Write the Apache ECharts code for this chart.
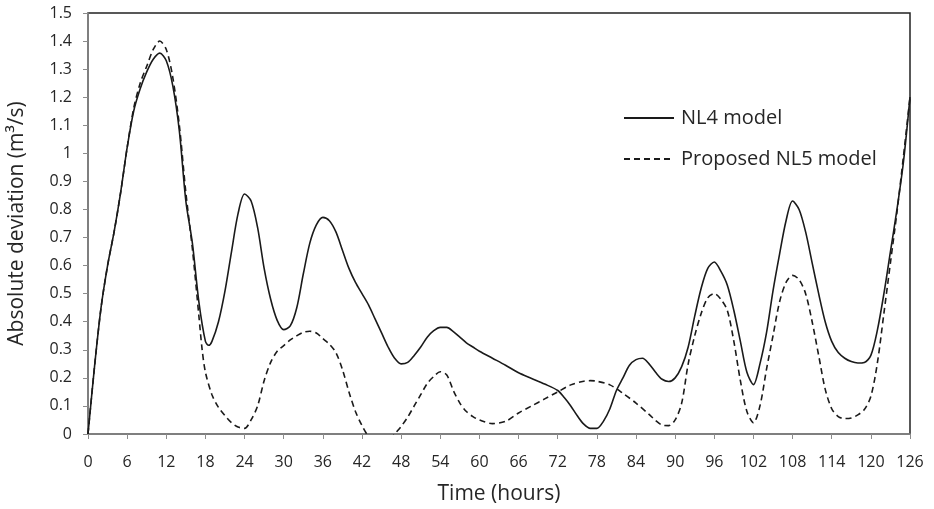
<!DOCTYPE html>
<html>
<head>
<meta charset="utf-8">
<script src="https://cdn.jsdelivr.net/npm/echarts@6/dist/echarts.min.js"></script>
<style>
  html, body { margin: 0; padding: 0; background: #fff; }
  #chart { width: 934px; height: 509px; }
</style>
</head>
<body>
<div id="chart"></div>
<script>
// hours, values
const nl4Points = [
  [0, 0], [1, 0.24], [2, 0.45], [3, 0.6], [4, 0.72], [5, 0.86], [6, 1.02], [7, 1.15],
  [8, 1.23], [9, 1.29], [10, 1.335], [11, 1.357], [12, 1.33], [13, 1.24], [14, 1.08],
  [15, 0.83], [16, 0.68], [17, 0.47], [18, 0.33], [18.5, 0.316], [19, 0.33], [20, 0.4],
  [21, 0.51], [22, 0.65], [23, 0.785], [24, 0.855], [25, 0.83], [26, 0.735], [27, 0.59],
  [28, 0.48], [29, 0.405], [30, 0.372], [31, 0.385], [32, 0.45], [33, 0.57], [34, 0.68],
  [35, 0.745], [36, 0.772], [37, 0.76], [38, 0.72], [39, 0.655], [40, 0.59], [41, 0.54],
  [42, 0.5], [43, 0.46], [44, 0.41], [45, 0.36], [46, 0.31], [47, 0.27], [48, 0.25],
  [49, 0.255], [50, 0.28], [51, 0.31], [52, 0.345], [53, 0.368], [54, 0.38], [55, 0.38],
  [56, 0.365], [57, 0.345], [58, 0.325], [59, 0.31], [60, 0.295], [62, 0.27], [64, 0.245],
  [66, 0.218], [68, 0.198], [70, 0.178], [72, 0.155], [73, 0.13], [74, 0.1], [75, 0.065],
  [76, 0.035], [77, 0.02], [78, 0.02], [79, 0.045], [80, 0.09], [81, 0.155], [82, 0.2],
  [83, 0.245], [84, 0.265], [85, 0.27], [86, 0.25], [87, 0.22], [88, 0.195], [89, 0.187],
  [90, 0.2], [91, 0.24], [92, 0.31], [93, 0.42], [94, 0.52], [95, 0.59], [96, 0.613],
  [97, 0.58], [98, 0.53], [99, 0.44], [100, 0.33], [101, 0.22], [102, 0.176], [103, 0.25],
  [104, 0.36], [105, 0.51], [106, 0.64], [107, 0.76], [108, 0.83], [109, 0.8], [110, 0.72],
  [111, 0.61], [112, 0.5], [113, 0.4], [114, 0.33], [115, 0.29], [116, 0.27],
  [117, 0.258], [118, 0.253], [119, 0.255], [120, 0.28], [121, 0.37], [122, 0.5],
  [123, 0.65], [124, 0.8], [125, 0.97], [126, 1.2]
];

const nl5Points = [
  [0, 0], [1, 0.24], [2, 0.45], [3, 0.6], [4, 0.72], [5, 0.86], [6, 1.02], [7, 1.16],
  [8, 1.25], [9, 1.31], [10, 1.37], [11, 1.4], [12, 1.37], [13, 1.27], [14, 1.1],
  [15, 0.86], [16, 0.66], [17, 0.42], [17.5, 0.3], [18, 0.22], [19, 0.14], [20, 0.095],
  [21, 0.065], [22, 0.04], [23, 0.025], [24, 0.02], [25, 0.05], [26, 0.1], [27, 0.19],
  [28, 0.255], [29, 0.295], [30, 0.315], [31, 0.335], [32, 0.35], [33, 0.362], [34, 0.366],
  [35, 0.36], [36, 0.34], [37, 0.32], [38, 0.29], [39, 0.23], [40, 0.15], [41, 0.08],
  [42, 0.03], [43, -0.01], [44, -0.04], [45, -0.05], [46, -0.03], [47, 0.0], [48, 0.027],
  [49, 0.06], [50, 0.1], [51, 0.14], [52, 0.18], [53, 0.205], [54, 0.222], [55, 0.21],
  [56, 0.155], [57, 0.11], [58, 0.08], [59, 0.062], [60, 0.05], [62, 0.037], [64, 0.045],
  [66, 0.075], [68, 0.1], [70, 0.125], [72, 0.15], [74, 0.175], [76, 0.188], [77, 0.19],
  [78, 0.188], [80, 0.175], [82, 0.145], [84, 0.11], [86, 0.07], [87, 0.048], [88, 0.032],
  [89, 0.03], [90, 0.05], [91, 0.11], [92, 0.25], [93, 0.35], [94, 0.43], [95, 0.485],
  [96, 0.5], [97, 0.48], [98, 0.44], [99, 0.33], [100, 0.19], [101, 0.08], [102, 0.04],
  [103, 0.1], [104, 0.23], [105, 0.35], [106, 0.47], [107, 0.54], [108, 0.565], [109, 0.55],
  [110, 0.5], [111, 0.4], [112, 0.28], [113, 0.16], [114, 0.09], [115, 0.062],
  [116, 0.055], [117, 0.057], [118, 0.068], [119, 0.087], [120, 0.134], [121, 0.253],
  [122, 0.43], [123, 0.61], [124, 0.79], [125, 0.99], [126, 1.2]
];

const seriesNames = ["NL4 model", "Proposed NL5 model"];
const xTitle = "Time (hours)";
const yTitle = "Absolute deviation (m³/s)";

const chart = echarts.init(document.getElementById("chart"));
const fontFamily = "'Open Sans', 'Noto Sans', sans-serif";
const axisGray = "#8c8c8c";
const textColor = "#262626";
const lineColor = "#1a1a1a";

const option = {
  animation: false,
  backgroundColor: "#fff",
  textStyle: { fontFamily: fontFamily },
  grid: {
    left: 88,
    right: 24,
    top: 13,
    bottom: 75,
    outerBoundsMode: "none",
    show: true,
    borderColor: "#222",
    borderWidth: 1.5,
    backgroundColor: "transparent"
  },
  legend: {
    orient: "vertical",
    left: 623,
    top: 108,
    padding: 0,
    itemWidth: 50,
    itemHeight: 14,
    itemGap: 21,
    itemStyle: { opacity: 0 },
    textStyle: { fontSize: 20, color: textColor, fontFamily: fontFamily, padding: [0, 0, 0, 2] },
    data: seriesNames
  },
  xAxis: {
    type: "value",
    min: 0,
    max: 126,
    interval: 6,
    name: xTitle,
    nameLocation: "middle",
    nameGap: 50,
    nameTextStyle: { fontSize: 21, color: textColor },
    axisLine: { show: true, lineStyle: { color: axisGray, width: 1.5 } },
    axisTick: { show: true, length: 5, lineStyle: { color: axisGray } },
    axisLabel: { fontSize: 16, color: textColor, margin: 20 },
    splitLine: { show: false }
  },
  yAxis: {
    type: "value",
    min: 0,
    max: 1.5,
    interval: 0.1,
    name: yTitle,
    nameLocation: "middle",
    nameGap: 60,
    nameTextStyle: { fontSize: 21, color: textColor },
    axisLine: { show: true, lineStyle: { color: axisGray, width: 1.5 } },
    axisTick: { show: true, length: 5, lineStyle: { color: axisGray } },
    axisLabel: { fontSize: 16, color: textColor, margin: 16 },
    splitLine: { show: false }
  },
  series: [
    {
      name: seriesNames[0],
      type: "line",
      data: nl4Points,
      smooth: 0.3,
      symbol: "none",
      clip: true,
      lineStyle: { color: lineColor, width: 1.6, type: "solid" },
      itemStyle: { color: lineColor }
    },
    {
      name: seriesNames[1],
      type: "line",
      data: nl5Points,
      smooth: 0.3,
      symbol: "none",
      clip: true,
      lineStyle: { color: lineColor, width: 1.6, type: [6, 4] },
      itemStyle: { color: lineColor }
    }
  ]
};

chart.setOption(option);
</script>
</body>
</html>
